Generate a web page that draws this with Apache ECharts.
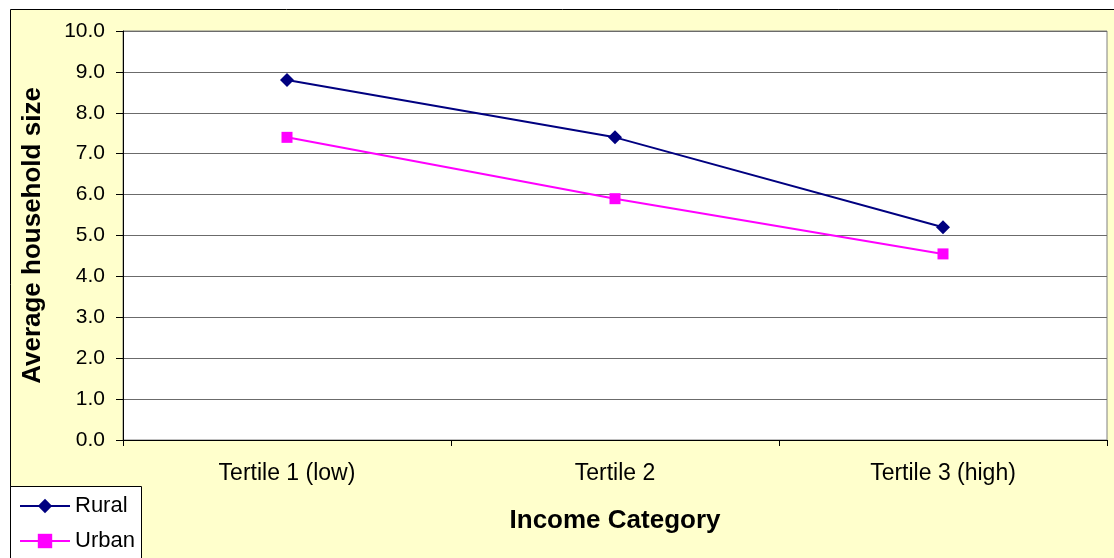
<!DOCTYPE html>
<html>
<head>
<meta charset="utf-8">
<script src="https://cdn.jsdelivr.net/npm/echarts@6/dist/echarts.min.js"></script>
<style>
  html, body { margin: 0; padding: 0; background: #ffffff; }
  #chart { width: 1114px; height: 558px; }
</style>
</head>
<body>
<div id="chart"></div>
<script>
// Average household size by income tertile
const categories = ['Tertile 1 (low)', 'Tertile 2', 'Tertile 3 (high)'];
const rural = [8.8, 7.4, 5.2];
const urban = [7.4, 5.9, 4.55];

const FONT = 'Arial, "Liberation Sans", sans-serif';

const chart = echarts.init(document.getElementById('chart'));
chart.setOption({
  animation: false,
  backgroundColor: '#ffffff',
  textStyle: { fontFamily: FONT, color: '#000' },
  graphic: [
    {
      // chart area frame
      type: 'rect',
      z: -10,
      silent: true,
      shape: { x: 10.5, y: 9.5, width: 1120, height: 570 },
      style: { fill: '#FFFFCC', stroke: '#000', lineWidth: 1 }
    },
    {
      // legend frame
      type: 'rect',
      z: 1,
      silent: true,
      shape: { x: 10.5, y: 486.5, width: 131, height: 100 },
      style: { fill: '#ffffff', stroke: '#000', lineWidth: 1 }
    }
  ],
  grid: {
    left: 123, top: 31, width: 984, height: 409,
    show: true,
    backgroundColor: '#ffffff',
    borderColor: '#808080',
    borderWidth: 1
  },
  legend: {
    orient: 'vertical',
    left: 19, top: 495,
    height: 200,
    padding: 0,
    itemGap: 13,
    itemWidth: 50, itemHeight: 18,
    z: 5,
    textStyle: { fontFamily: FONT, fontSize: 22, lineHeight: 22, color: '#000' },
    data: ['Rural', 'Urban']
  },
  xAxis: {
    type: 'category',
    data: categories,
    boundaryGap: true,
    name: 'Income Category',
    nameLocation: 'middle',
    nameGap: 68,
    nameTextStyle: { fontFamily: FONT, fontSize: 26, fontWeight: 'bold', color: '#000' },
    axisLine: { show: true, lineStyle: { color: '#000', width: 1 } },
    axisTick: { show: true, length: 6, alignWithLabel: false, lineStyle: { color: '#000' } },
    axisLabel: { fontFamily: FONT, fontSize: 23, color: '#000', margin: 22 },
    splitLine: { show: false }
  },
  yAxis: {
    type: 'value',
    min: 0, max: 10, interval: 1,
    name: 'Average household size',
    nameLocation: 'middle',
    nameGap: 77,
    nameTextStyle: { fontFamily: FONT, fontSize: 26, fontWeight: 'bold', color: '#000' },
    axisLine: { show: true, lineStyle: { color: '#000', width: 1 } },
    axisTick: { show: true, length: 7, lineStyle: { color: '#000' } },
    axisLabel: { fontFamily: FONT, fontSize: 21, color: '#000', margin: 18,
                 formatter: v => v.toFixed(1) },
    splitLine: { show: true, lineStyle: { color: '#6b6b6b', width: 1 } }
  },
  series: [
    {
      name: 'Rural',
      type: 'line',
      data: rural,
      symbol: 'diamond',
      symbolSize: 14,
      lineStyle: { color: '#000080', width: 2 },
      itemStyle: { color: '#000080' }
    },
    {
      name: 'Urban',
      type: 'line',
      data: urban,
      symbol: 'rect',
      symbolSize: 11,
      lineStyle: { color: '#FF00FF', width: 2 },
      itemStyle: { color: '#FF00FF' }
    }
  ]
});
</script>
</body>
</html>
